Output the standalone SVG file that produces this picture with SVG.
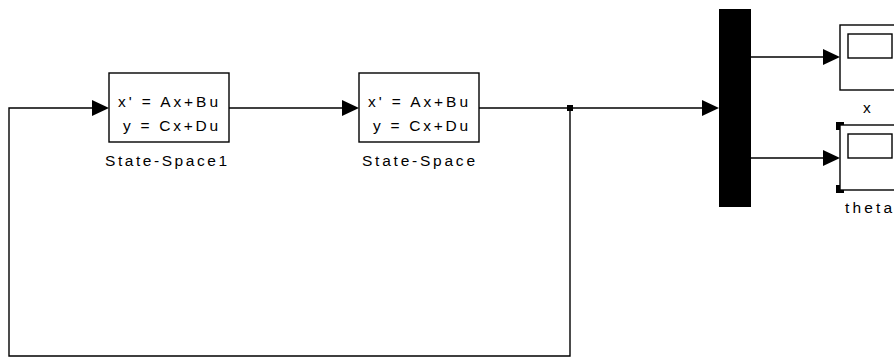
<svg xmlns="http://www.w3.org/2000/svg" width="894" height="358" viewBox="0 0 894 358">
  <defs>
    <style>
      .blk { fill: #fff; stroke: #000; stroke-width: 1.4; }
      .wire { fill: none; stroke: #000; stroke-width: 1.4; }
      .txt { font-family: "Liberation Sans", Arial, sans-serif; font-size: 15.5px; fill: #000; }
      .arr { fill: #000; }
      .hdl { fill: #000; }
    </style>
  </defs>
  <rect width="894" height="358" fill="#fff"/>

  <!-- signal lines -->
  <g id="connectors">
    <polyline class="wire" points="229,108 343,108"/>
    <polyline class="wire" points="479,108 703,108"/>
    <polyline class="wire" points="570,108 570,356 9,356 9,108 93,108"/>
    <polyline class="wire" points="751,57 824,57"/>
    <polyline class="wire" points="751,158 824,158"/>
    <rect x="567" y="105" width="6" height="6" fill="#000"/>
    <polygon class="arr" points="92,100 109,108 92,116"/>
    <polygon class="arr" points="342,100 359,108 342,116"/>
    <polygon class="arr" points="702,100 719,108 702,116"/>
    <polygon class="arr" points="823,49 840,57 823,65"/>
    <polygon class="arr" points="823,150 840,158 823,166"/>
  </g>

  <g id="ss1">
    <rect class="blk" x="109" y="73" width="120" height="69"/>
    <text class="txt" x="118" y="107" textLength="100" lengthAdjust="spacing">x' = Ax+Bu</text>
    <text class="txt" x="123" y="131" textLength="95" lengthAdjust="spacing">y = Cx+Du</text>
    <text class="txt" x="105" y="166" textLength="122" lengthAdjust="spacing">State-Space1</text>
  </g>

  <g id="ss">
    <rect class="blk" x="359" y="73" width="120" height="69"/>
    <text class="txt" x="368" y="107" textLength="100" lengthAdjust="spacing">x' = Ax+Bu</text>
    <text class="txt" x="373" y="131" textLength="95" lengthAdjust="spacing">y = Cx+Du</text>
    <text class="txt" x="362" y="166" textLength="113" lengthAdjust="spacing">State-Space</text>
  </g>

  <g id="mux">
    <rect x="719" y="9" width="32" height="198" fill="#000"/>
  </g>

  <g id="scope-x">
    <rect class="blk" x="840" y="25" width="70" height="65"/>
    <rect class="blk" x="848" y="34" width="44" height="24"/>
    <text class="txt" x="863" y="113">x</text>
  </g>

  <g id="scope-theta">
    <rect class="blk" x="840" y="125" width="70" height="65"/>
    <rect class="blk" x="848" y="134" width="44" height="24"/>
    <!-- selection handles -->
    <path class="hdl" d="M836,122 h8 v3 h-4 v5 h-4 z"/>
    <path class="hdl" d="M836,185 h4 v5 h4 v3 h-8 z"/>
    <text class="txt" x="845" y="213" textLength="47" lengthAdjust="spacing">theta</text>
  </g>
</svg>
